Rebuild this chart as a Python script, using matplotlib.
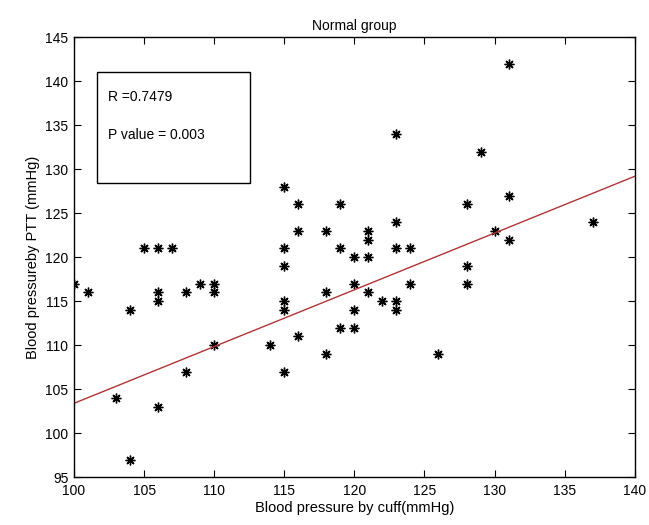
import matplotlib
matplotlib.use("Agg")
import matplotlib.pyplot as plt
from matplotlib.patches import Rectangle
import numpy as np

plt.rcParams['font.family'] = ['Liberation Sans', 'DejaVu Sans']

# blood pressure by cuff (x) and by PTT (y), mmHg
cuff = [100, 101, 103, 104, 104, 105, 106, 107, 106, 106, 106, 108, 108, 109, 110,
        110, 110, 114, 115, 115, 115, 115, 115, 115, 116, 116, 116, 118, 118, 118,
        119, 119, 119, 120, 120, 120, 120, 121, 121, 121, 121, 122, 123, 123, 123,
        123, 124, 124, 126, 128, 128, 128, 129, 130, 131, 131, 131, 137, 123]
ptt = [117, 116, 104, 114, 97, 121, 121, 121, 116, 115, 103, 116, 107, 117, 117,
       116, 110, 110, 128, 121, 119, 115, 114, 107, 126, 123, 111, 123, 116, 109,
       126, 121, 112, 120, 117, 114, 112, 123, 122, 120, 116, 115, 124, 121, 115,
       114, 121, 117, 109, 126, 119, 117, 132, 123, 142, 127, 122, 124, 134]

# regression line as drawn in the figure (end points)
fit_x = [100, 140]
fit_y = [103.4, 129.2]

r_text = "R =0.7479"
p_text = "P value = 0.003"

fig = plt.figure(figsize=(6.49, 5.25), dpi=100)
ax = fig.add_axes([0.114, 0.091, 0.864, 0.838])

ax.plot(cuff, ptt, linestyle='none', marker=(8, 2, 0), markersize=7,
        markeredgewidth=1.0, color='black')
ax.plot(fit_x, fit_y, color='#b03434', linewidth=1)

ax.set_xlim(100, 140)
ax.set_ylim(95, 145)
ax.set_xticks(np.arange(100, 141, 5))
ax.set_yticks(np.arange(95, 146, 5))
ax.tick_params(direction='in', top=True, right=True, length=5, labelsize=10)
ax.tick_params(axis='x', pad=5)
ax.tick_params(axis='y', pad=4)
for s in ax.spines.values():
    s.set_linewidth(1)

ax.set_title("Normal group", fontsize=10, pad=5)
ax.set_xlabel("Blood pressure by cuff(mmHg)", fontsize=10.5, labelpad=2)
ax.set_ylabel("Blood pressureby PTT (mmHg)", fontsize=10.5, labelpad=4)

# annotation box
ax.add_patch(Rectangle((0.041, 0.6685), 0.273, 0.2525, transform=ax.transAxes,
                       facecolor='white', edgecolor='black', linewidth=1, zorder=3))
ax.text(0.06, 0.864, r_text, transform=ax.transAxes, fontsize=10,
        va='center', ha='left', zorder=4)
ax.text(0.06, 0.778, p_text, transform=ax.transAxes, fontsize=10,
        va='center', ha='left', zorder=4)

fig.savefig("out.png", dpi=100)
